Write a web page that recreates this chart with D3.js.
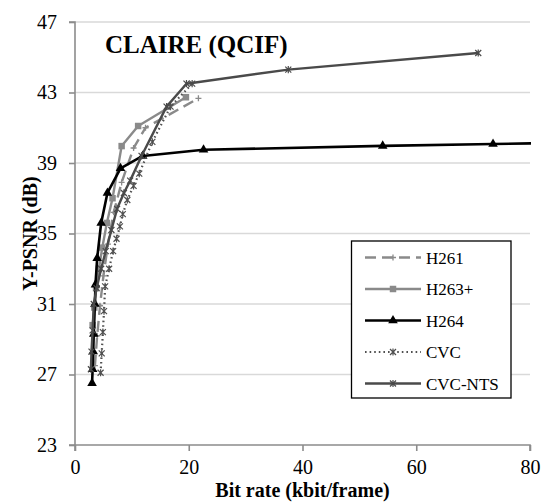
<!DOCTYPE html>
<html><head><meta charset="utf-8">
<script src="https://cdn.jsdelivr.net/npm/d3@7"></script>
<style>
html,body{margin:0;padding:0;background:#fff;}
svg{display:block;font-family:"Liberation Serif","Times New Roman",serif;}
</style></head>
<body><svg id="c" width="544" height="502"></svg>
<script>
const xTicks = [0, 20, 40, 60, 80];
const yTicks = [23, 27, 31, 35, 39, 43, 47];
const seriesNames = ["H261", "H263+", "H264", "CVC", "CVC-NTS"];

const h261 = [[3.5,27.5],[3.9,29.2],[4.4,30.9],[5.0,32.6],[5.8,34.4],[6.8,36.2],[8.2,37.9],[10.3,39.85],[12.4,41.0],[21.7,42.67]];
const h263p = [[3.1,29.8],[3.4,30.8],[3.7,31.9],[4.2,33.0],[4.8,34.2],[5.6,35.6],[6.6,37.0],[8.2,39.96],[11.1,41.1],[19.5,42.73]];
const h264 = [[3.0,26.5],[3.1,27.3],[3.2,28.3],[3.3,29.3],[3.5,31.0],[3.6,32.1],[3.9,33.6],[4.6,35.6],[5.7,37.3],[8.0,38.7],[11.9,39.4],[22.6,39.75],[54.1,39.97],[73.5,40.08],[86,40.14]];
const cvc = [[4.5,27.1],[4.7,28.2],[4.9,29.4],[5.1,30.6],[5.3,32.0],[6.0,33.0],[6.7,34.0],[7.3,34.7],[7.9,35.4],[8.4,36.1],[9.2,36.9],[10.3,37.7],[11.3,38.4],[13.6,40.2],[16.8,42.2],[20.6,43.5]];
const cvcNts = [[2.8,27.3],[2.9,28.3],[3.1,29.5],[3.3,31.0],[3.8,31.9],[4.6,33.0],[5.4,34.0],[6.4,35.2],[7.4,36.4],[8.6,37.3],[9.7,38.0],[11.7,39.4],[16.1,42.2],[19.6,43.5],[37.5,44.3],[70.9,45.24]];

const svg = d3.select("#c");
const L = 75, R = 530, T = 22, B = 445;
const x = d3.scaleLinear().domain([0, 80]).range([L, R]);
const y = d3.scaleLinear().domain([23, 47]).range([B, T]);
const FONT = "'Liberation Serif','Times New Roman',serif";

// gridlines
svg.append("g").selectAll("line").data(yTicks.slice(1)).join("line")
  .attr("x1", L).attr("x2", R).attr("y1", d => y(d)).attr("y2", d => y(d))
  .attr("stroke", "#d9d9d9").attr("stroke-width", 1.3);

// axes
const axisColor = "#8c8c8c";
const yAxis = svg.append("g").attr("transform", `translate(${L},0)`)
  .call(d3.axisLeft(y).tickValues(yTicks).tickSize(6).tickPadding(12));
const xAxis = svg.append("g").attr("transform", `translate(0,${B})`)
  .call(d3.axisBottom(x).tickValues(xTicks).tickSize(6).tickPadding(9));
[xAxis, yAxis].forEach(a => {
  a.attr("font-family", FONT);
  a.selectAll("path").attr("stroke", axisColor).attr("stroke-width", 1.6);
  a.selectAll("line").attr("stroke", axisColor).attr("stroke-width", 1.6);
  a.selectAll("text").attr("font-family", FONT).attr("font-size", 20).attr("fill", "#000");
});
xAxis.select(".domain").attr("d", `M${L},6V0H${R}V6`);
yAxis.select(".domain").attr("d", `M-6,${T}H0V${B}H-6`);

svg.append("clipPath").attr("id", "clip").append("rect")
  .attr("x", L).attr("y", 0).attr("width", R - L + 1).attr("height", B);

// marker shapes
const starSym = { draw(ctx, size) { const r = Math.sqrt(size) / 2;
  ctx.moveTo(-r, -r); ctx.lineTo(r, r); ctx.moveTo(-r, r); ctx.lineTo(r, -r);
  ctx.moveTo(0, -r * 1.2); ctx.lineTo(0, r * 1.2); } };
const plusSym = { draw(ctx, size) { const r = Math.sqrt(size) / 2;
  ctx.moveTo(-r, 0); ctx.lineTo(r, 0); ctx.moveTo(0, -r); ctx.lineTo(0, r); } };

const styles = [
  { name: "H261", data: h261, color: "#8a8a8a", width: 2.4, dash: "11,6", marker: plusSym, msize: 36, mfill: false, mstroke: 1.3 },
  { name: "H263+", data: h263p, color: "#8a8a8a", width: 2.4, dash: null, marker: d3.symbolSquare, msize: 42, mfill: true },
  { name: "H264", data: h264, color: "#000000", width: 2.6, dash: null, marker: d3.symbolTriangle, msize: 40, mfill: true },
  { name: "CVC", data: cvc, color: "#505050", width: 2.2, dash: "1.6,3", marker: starSym, msize: 36, mfill: false, mstroke: 1.2 },
  { name: "CVC-NTS", data: cvcNts, color: "#4a4a4a", width: 2.4, dash: null, marker: starSym, msize: 36, mfill: false, mstroke: 1.2 }
];

const line = d3.line().x(d => x(d[0])).y(d => y(d[1]));
const plot = svg.append("g").attr("clip-path", "url(#clip)");
styles.forEach(s => {
  plot.append("path").datum(s.data).attr("d", line).attr("fill", "none")
    .attr("stroke", s.color).attr("stroke-width", s.width)
    .attr("stroke-dasharray", s.dash).attr("stroke-linejoin", "round");
  plot.append("g").selectAll("path").data(s.data).join("path")
    .attr("transform", d => `translate(${x(d[0])},${y(d[1])})`)
    .attr("d", d3.symbol(s.marker, s.msize))
    .attr("fill", s.mfill ? s.color : "none")
    .attr("stroke", s.color).attr("stroke-width", s.mfill ? 0 : s.mstroke);
});

// title
svg.append("text").attr("x", 105).attr("y", 53).attr("font-size", 25).attr("font-weight", "bold")
  .attr("font-family", FONT).text("CLAIRE (QCIF)");

// axis titles
svg.append("text").attr("x", (L + R) / 2).attr("y", 497).attr("text-anchor", "middle")
  .attr("font-family", FONT).attr("font-size", 20).attr("font-weight", "bold").text("Bit rate (kbit/frame)");
svg.append("text").attr("transform", `translate(37,${(T + B) / 2}) rotate(-90)`).attr("text-anchor", "middle")
  .attr("font-family", FONT).attr("font-size", 20).attr("font-weight", "bold").text("Y-PSNR (dB)");

// legend
const lg = svg.append("g");
lg.append("rect").attr("x", 351.5).attr("y", 241).attr("width", 159.5).attr("height", 157)
  .attr("fill", "#fff").attr("stroke", "#000").attr("stroke-width", 1.3);
const legendY = d3.scalePoint().domain(seriesNames).range([257.5, 383.5]);
styles.forEach(s => {
  const ly = legendY(s.name);
  lg.append("line").attr("x1", 365).attr("x2", 421).attr("y1", ly).attr("y2", ly)
    .attr("stroke", s.color).attr("stroke-width", s.width).attr("stroke-dasharray", s.dash);
  lg.append("path").attr("transform", `translate(393,${ly})`).attr("d", d3.symbol(s.marker, s.msize))
    .attr("fill", s.mfill ? s.color : "none").attr("stroke", s.color)
    .attr("stroke-width", s.mfill ? 0 : s.mstroke);
  lg.append("text").attr("x", 426).attr("y", ly + 6).attr("font-family", FONT).attr("font-size", 17).text(s.name);
});
</script></body></html>
